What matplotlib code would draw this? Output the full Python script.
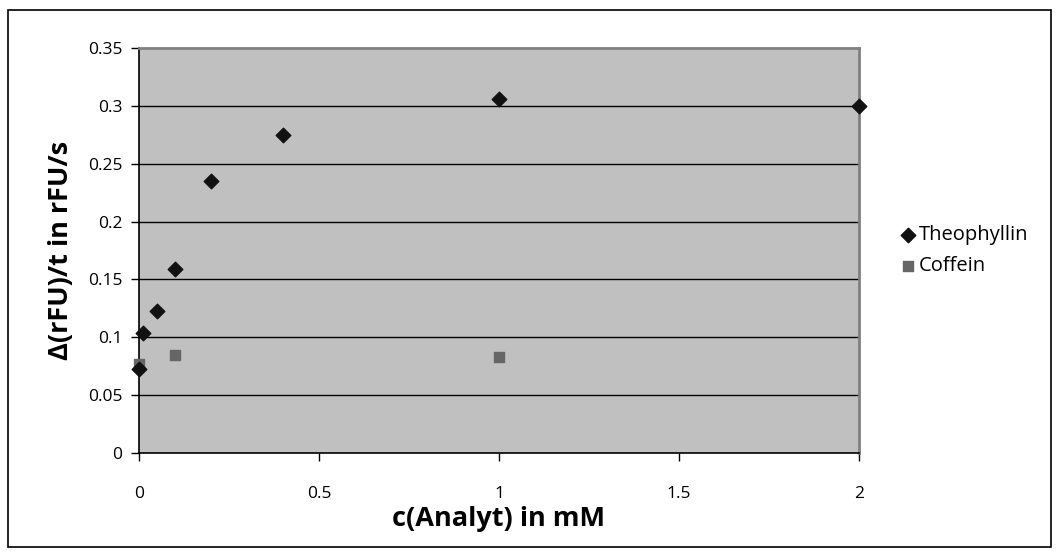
import matplotlib.pyplot as plt
from matplotlib.patches import Rectangle

# --- data ---
theo_x = [0, 0.01, 0.05, 0.1, 0.2, 0.4, 1, 2]
theo_y = [0.073, 0.104, 0.123, 0.159, 0.235, 0.275, 0.306, 0.300]
coff_x = [0, 0.1, 1]
coff_y = [0.077, 0.085, 0.083]

xticks = [0, 0.5, 1, 1.5, 2]
xtick_labels = ['0', '0.5', '1', '1.5', '2']
yticks = [0, 0.05, 0.1, 0.15, 0.2, 0.25, 0.3, 0.35]
ytick_labels = ['0', '0.05', '0.1', '0.15', '0.2', '0.25', '0.3', '0.35']

plt.rcParams['font.family'] = ['Open Sans', 'DejaVu Sans']

fig = plt.figure(figsize=(10.61, 5.58), dpi=100)
ax = fig.add_axes([139 / 1061, 1 - 453 / 558, (859 - 139) / 1061, (453 - 48) / 558])

# outer chart border
fig.patches.append(Rectangle((8 / 1061, 11 / 558), 1043 / 1061, 537 / 558,
                             transform=fig.transFigure, fill=False,
                             edgecolor='black', linewidth=1.2))

ax.set_facecolor('#C0C0C0')
ax.set_xlim(0, 2)
ax.set_ylim(0, 0.35)

for y in yticks[1:-1]:
    ax.axhline(y, color='black', linewidth=1.0, zorder=1)

for side in ['top', 'right']:
    ax.spines[side].set_color('#808080')
    ax.spines[side].set_linewidth(2)
ax.spines['left'].set_color('black')
ax.spines['bottom'].set_color('black')
ax.spines['left'].set_linewidth(1.2)
ax.spines['bottom'].set_linewidth(1.2)

ax.scatter(theo_x, theo_y, marker='D', s=55, color='#111111',
           label='Theophyllin', zorder=4, clip_on=False)
ax.scatter(coff_x, coff_y, marker='s', s=60, color='#666666',
           label='Coffein', zorder=3, clip_on=False)

ax.set_xticks(xticks)
ax.set_xticklabels(xtick_labels)
ax.set_yticks(yticks)
ax.set_yticklabels(ytick_labels)
ax.tick_params(axis='both', direction='out', length=6, width=1,
               labelsize=12.5, color='black')
ax.tick_params(axis='x', pad=18)
ax.tick_params(axis='y', pad=6)

ax.set_xlabel('c(Analyt) in mM', fontsize=19.5, fontweight='bold', labelpad=3)
ax.set_ylabel('Δ(rFU)/t in rFU/s', fontsize=19.5, fontweight='bold', labelpad=10)

ax.legend(loc='center left', bbox_to_anchor=(1.04, 0.50), frameon=False,
          fontsize=14.5, handletextpad=0.05, labelspacing=0.55,
          handlelength=1.0, borderpad=0)

fig.savefig('out.png', dpi=100)
